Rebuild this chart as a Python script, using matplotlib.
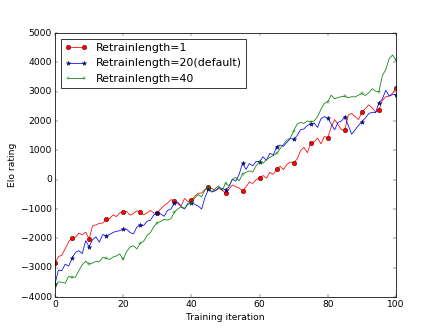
import matplotlib
matplotlib.use("Agg")
import matplotlib.pyplot as plt
import numpy as np

plt.style.use("classic")

iterations = np.arange(101)

elo_len1 = [
    -2850, -2620, -2580, -2350, -2120, -1980, -1960, -1820, -1880, -1790,
    -2030, -1580, -1540, -1490, -1480, -1350, -1330, -1200, -1260, -1130,
    -1100, -1080, -1210, -1150, -1060, -1100, -1200, -1130, -1050, -1140,
    -1120, -1000, -880, -800, -680, -720, -830, -880, -640, -750,
    -710, -560, -470, -450, -330, -260, -300, -370, -300, -350,
    -460, -330, -180, -240, -280, -380, -250, -80, -130, 0,
    70, 140, 50, 250, 180, 350, 460, 340, 520, 600,
    580, 700, 990, 1100, 920, 1240, 1290, 1420, 1220, 1470,
    1430, 1800, 2050, 1880, 1700, 1690, 2200, 2260, 2150, 2050,
    2300, 2420, 2550, 2450, 2300, 2380, 2700, 2830, 2850, 2950,
    3120,
]

elo_len20 = [
    -3550, -3080, -3100, -2880, -2950, -2670, -2480, -2420, -2520, -2080,
    -2290, -2050, -1950, -2130, -1870, -1910, -1870, -1800, -1760, -1740,
    -1680, -1690, -1800, -1850, -1620, -1540, -1560, -1420, -1380, -1200,
    -1120, -1170, -1250, -1050, -1000, -800, -760, -930, -1000, -800,
    -790, -840, -900, -1000, -600, -330, -420, -380, -270, -300,
    -340, -250, 20, -50, 180, 560, 350, 550, 470, 620,
    610, 780, 660, 900, 840, 1120, 1180, 1140, 1270, 1400,
    1380, 1500, 1700, 1730, 1850, 1900, 1930, 1780, 2080, 2150,
    2090, 1900, 1700, 1950, 2000, 2150, 1850, 1550, 1700, 1850,
    1980, 2100, 2250, 2300, 2280, 2620, 2750, 3050, 2850, 2900,
    2900,
]

elo_len40 = [
    -3650, -3480, -3500, -3530, -3300, -3330, -3320, -3100, -2900, -2780,
    -2880, -2840, -2790, -2800, -2650, -2680, -2720, -2640, -2600, -2530,
    -2720, -2450, -2300, -2250, -2360, -2170, -2100, -1900, -1800, -1600,
    -1470, -1420, -1350, -1380, -1330, -1110, -1000, -920, -980, -840,
    -800, -620, -510, -580, -350, -260, -420, -300, -210, -380,
    -120, -220, 0, 80, -40, 190, 250, 300, 260, 480,
    610, 560, 680, 760, 820, 900, 1050, 1200, 1350, 1420,
    1660, 1900, 1950, 1920, 2000, 1980, 2000, 2150, 2400, 2600,
    2660, 2880, 2760, 2800, 2830, 2850, 2790, 2830, 2820, 2880,
    2940, 2870, 2960, 3100, 3020, 3000, 3550, 3750, 4130, 4250,
    4080,
]

labels = ["Retrainlength=1", "Retrainlength=20(default)", "Retrainlength=40"]

fig, ax = plt.subplots(figsize=(8, 6), dpi=55)

ax.plot(iterations, elo_len1, "r-o", markevery=5, label=labels[0])
ax.plot(iterations, elo_len20, "b-*", markevery=5, label=labels[1])
ax.plot(iterations, elo_len40, "g-+", markevery=5, label=labels[2])

ax.set_xlim(0, 100)
ax.set_ylim(-4000, 5000)
ax.set_xlabel("Training iteration")
ax.set_ylabel("Elo rating")
ax.legend(loc="upper left")

fig.savefig("out.png", dpi=55)
